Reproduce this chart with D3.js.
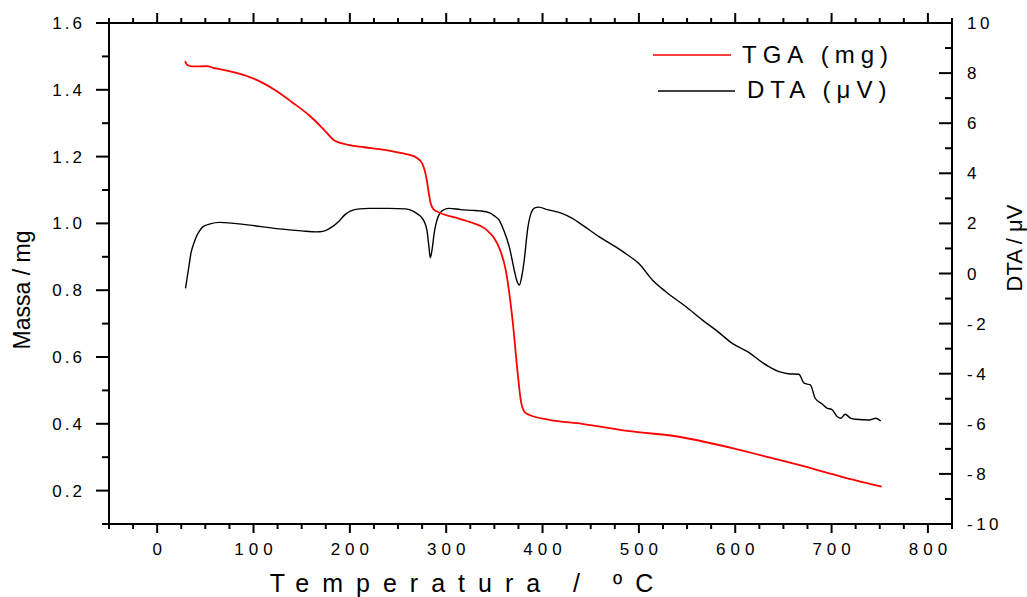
<!DOCTYPE html>
<html><head><meta charset="utf-8">
<script src="https://cdn.jsdelivr.net/npm/d3@7"></script>
<style>body{margin:0;background:#fff}svg{display:block}text{font-family:"Liberation Sans",Arial,sans-serif}</style>
</head><body><svg id="c" width="1027" height="597"></svg>
<script>
const tgaTemp = [29,31,36,45,52,58,65,80,96,110,123,140,158,172,184,197,215,236,251,262,270,275,278,280,282,284,287,293,310,327,340,345,350,355,362,366,369,374,377.6,381,386,407,441,493,540,562,600,640,666,700,726,752];
const tgaMass = [1.486,1.475,1.47,1.47,1.471,1.466,1.462,1.452,1.438,1.42,1.398,1.363,1.323,1.284,1.248,1.236,1.228,1.22,1.212,1.205,1.195,1.18,1.155,1.127,1.09,1.059,1.042,1.032,1.017,1.002,0.985,0.972,0.955,0.927,0.857,0.78,0.707,0.557,0.467,0.437,0.427,0.412,0.4,0.377,0.362,0.35,0.325,0.296,0.277,0.25,0.23,0.212];
const dtaTemp = [29.4,31,33,35,38,40.5,44,47.3,55,64.6,80,96,130,150,165,172,179,189,195,201,210,220,240,258,266,270,274,278,280,282,283.5,285.5,287.5,289.5,292,294.6,298,303,315,327,335,345,350,355,360,365.5,370.6,373,376,378.5,381,384.4,388,392,396,405,420,431,441.5,459,476,488,500,514,528,549,566,580,597,614,628,635,645.6,655,666,671.5,678,683,690,695.6,700,706,709.5,714,720,725,739,746,751];
const dtaVal = [-0.59,-0.2,0.3,0.8,1.2,1.46,1.7,1.86,1.98,2.04,2.0,1.93,1.77,1.7,1.66,1.68,1.8,2.1,2.35,2.5,2.58,2.6,2.6,2.58,2.48,2.38,2.26,2.0,1.73,1.1,0.63,1.0,1.6,2.0,2.3,2.46,2.55,2.6,2.55,2.52,2.5,2.42,2.3,2.13,1.7,1.06,0.14,-0.25,-0.46,-0.1,0.53,1.73,2.4,2.62,2.65,2.55,2.4,2.2,1.93,1.46,1.06,0.75,0.4,-0.26,-0.73,-1.33,-1.86,-2.26,-2.79,-3.15,-3.55,-3.72,-3.92,-4.0,-4.02,-4.38,-4.45,-4.98,-5.2,-5.38,-5.42,-5.72,-5.78,-5.62,-5.78,-5.82,-5.85,-5.78,-5.89];
const xTicks = [0,100,200,300,400,500,600,700,800];
const leftTicks = [0.2,0.4,0.6,0.8,1.0,1.2,1.4,1.6];
const rightTicks = [-10,-8,-6,-4,-2,0,2,4,6,8,10];
const legendLabels = ["TGA (mg)","DTA (\u03bcV)"];

const svg = d3.select("#c");
const L=109, R=952, T=23, B=524;
const x = d3.scaleLinear().domain([-50,825]).range([L,R]);
const yL = d3.scaleLinear().domain([0.1,1.6]).range([B,T]);
const yR = d3.scaleLinear().domain([-10,10]).range([B,T]);

const line = (xs, ys, yscale) => d3.line().curve(d3.curveMonotoneX)
  .x((d,i)=>x(xs[i])).y((d,i)=>yscale(ys[i]))(xs);

svg.append("path").attr("d", line(dtaTemp, dtaVal, yR)).attr("fill","none").attr("stroke","#000").attr("stroke-width",1.4);
svg.append("path").attr("d", line(tgaTemp, tgaMass, yL)).attr("fill","none").attr("stroke","#ff0000").attr("stroke-width",1.8);

const minorX = d3.range(-50,826,25);
const minorL = d3.range(0.1,1.601,0.1);
const minorR = d3.range(-10,10.01,1);
const ax = svg.append("g").attr("stroke","#000").attr("stroke-width",2);
ax.append("line").attr("x1",L).attr("x2",R).attr("y1",B).attr("y2",B);
ax.append("line").attr("x1",L).attr("x2",R).attr("y1",T).attr("y2",T);
ax.append("line").attr("x1",L).attr("x2",L).attr("y1",T-1).attr("y2",B+1);
ax.append("line").attr("x1",R).attr("x2",R).attr("y1",T-1).attr("y2",B+1);
const isMajorX = v => Math.abs(v/100 - Math.round(v/100))<1e-6;
minorX.forEach(v=>{
  const m = isMajorX(v);
  ax.append("line").attr("x1",x(v)).attr("x2",x(v)).attr("y1",B).attr("y2",B+(m?9:5));
  ax.append("line").attr("x1",x(v)).attr("x2",x(v)).attr("y1",T).attr("y2",T-(m?10:5));
});
minorL.forEach(v=>{
  const m = Math.abs(v*5 - Math.round(v*5))<1e-6;
  ax.append("line").attr("x1",L).attr("x2",L-(m?13:7)).attr("y1",yL(v)).attr("y2",yL(v));
});
minorR.forEach(v=>{
  const m = Math.round(v)%2===0;
  ax.append("line").attr("x1",R).attr("x2",R-(m?13:7)).attr("y1",yR(v)).attr("y2",yR(v));
});

const tf = svg.append("g").attr("font-size",17).attr("fill","#000");
xTicks.forEach(v=>{
  tf.append("text").attr("x",x(v)+2.5).attr("y",555).attr("text-anchor","middle").attr("letter-spacing","5px").text(v);
});
leftTicks.forEach(v=>{
  tf.append("text").attr("x",85).attr("y",yL(v)+6).attr("text-anchor","end").attr("letter-spacing","3px").text(v.toFixed(1));
});
rightTicks.forEach(v=>{
  tf.append("text").attr("x",967).attr("y",yR(v)+6).attr("text-anchor","start").attr("letter-spacing","3.5px").text(v);
});

svg.append("text").attr("x",468).attr("y",592).attr("text-anchor","middle").attr("font-size",25).attr("letter-spacing","13px").text("Temperatura / \u00baC");
svg.append("text").attr("transform","translate(30,290) rotate(-90)").attr("text-anchor","middle").attr("font-size",23).text("Massa / mg");
svg.append("text").attr("transform","translate(1022,248) rotate(-90)").attr("text-anchor","middle").attr("font-size",22).text("DTA / \u03bcV");

const lg = svg.append("g");
lg.append("line").attr("x1",653).attr("x2",731).attr("y1",55).attr("y2",55).attr("stroke","#ff0000").attr("stroke-width",1.3);
lg.append("line").attr("x1",658).attr("x2",735).attr("y1",91).attr("y2",91).attr("stroke","#000").attr("stroke-width",1.3);
lg.append("text").attr("x",742).attr("y",63).attr("font-size",24).attr("letter-spacing","6px").text(legendLabels[0]);
lg.append("text").attr("x",747).attr("y",98).attr("font-size",24).attr("letter-spacing","6px").text(legendLabels[1]);
</script></body></html>
